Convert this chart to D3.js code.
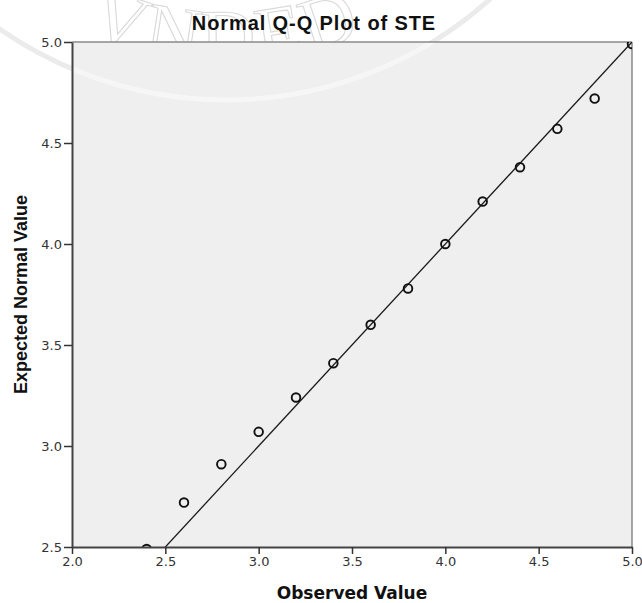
<!DOCTYPE html>
<html>
<head>
<meta charset="utf-8">
<script src="https://cdn.jsdelivr.net/npm/d3@7"></script>
<style>
  html, body { margin: 0; padding: 0; background: #ffffff; }
  svg { display: block; }
</style>
</head>
<body>
<svg id="chart" width="642" height="603"></svg>
<script>
// Normal Q-Q plot: observed values against expected normal quantiles
const observed = [2.4, 2.6, 2.8, 3.0, 3.2, 3.4, 3.6, 3.8, 4.0, 4.2, 4.4, 4.6, 4.8, 5.0];
const expectedNormal = [2.49, 2.72, 2.91, 3.07, 3.24, 3.41, 3.60, 3.78, 4.00, 4.21, 4.38, 4.57, 4.72, 4.99];
const xTicks = [2.0, 2.5, 3.0, 3.5, 4.0, 4.5, 5.0];
const yTicks = [2.5, 3.0, 3.5, 4.0, 4.5, 5.0];
const referenceLine = [2.0, 5.0]; // y = x

const svg = d3.select("#chart");
const plotLeft = 72, plotRight = 632, plotTop = 42, plotBottom = 547;

const x = d3.scaleLinear().domain([2.0, 5.0]).range([plotLeft, plotRight]);
const y = d3.scaleLinear().domain([2.5, 5.0]).range([plotBottom, plotTop]);

// faint seal watermark behind the chart
const wm = svg.append("g").attr("class", "watermark");
const cx = 226, cy = -296, ringR = 396;
wm.append("circle")
  .attr("cx", cx).attr("cy", cy).attr("r", ringR)
  .attr("fill", "none").attr("stroke", "#ebebeb").attr("stroke-width", 5);
const textR = 358;
wm.append("path")
  .attr("id", "wmArc")
  .attr("d", `M ${cx - textR},${cy} A ${textR},${textR} 0 0 0 ${cx + textR},${cy}`)
  .attr("fill", "none");
wm.append("text")
  .attr("font-family", "Liberation Serif, DejaVu Serif, serif")
  .attr("font-size", 76)
  .attr("letter-spacing", 4)
  .attr("fill", "none")
  .attr("stroke", "#d9d9d9")
  .attr("stroke-width", 1.1)
  .append("textPath")
  .attr("href", "#wmArc")
  .attr("startOffset", "50%")
  .attr("text-anchor", "middle")
  .text("VNDED");

// plot area
svg.append("rect")
  .attr("x", plotLeft).attr("y", plotTop)
  .attr("width", plotRight - plotLeft).attr("height", plotBottom - plotTop)
  .attr("fill", "#efefef");

svg.append("clipPath").attr("id", "plotClip")
  .append("rect")
  .attr("x", plotLeft).attr("y", plotTop)
  .attr("width", plotRight - plotLeft).attr("height", plotBottom - plotTop);

// watermark ring seen through the plot area
svg.append("circle")
  .attr("clip-path", "url(#plotClip)")
  .attr("cx", cx).attr("cy", cy).attr("r", ringR)
  .attr("fill", "none").attr("stroke", "#f6f6f6").attr("stroke-width", 5);

// frame: top and right edges
svg.append("line")
  .attr("x1", plotLeft).attr("x2", plotRight).attr("y1", plotTop).attr("y2", plotTop)
  .attr("stroke", "#8a8a8a").attr("stroke-width", 1.5);
svg.append("line")
  .attr("x1", plotRight).attr("x2", plotRight).attr("y1", plotTop).attr("y2", plotBottom)
  .attr("stroke", "#8a8a8a").attr("stroke-width", 1.5);

const plot = svg.append("g").attr("clip-path", "url(#plotClip)");

// reference line y = x
plot.append("line")
  .attr("x1", x(referenceLine[0])).attr("y1", y(referenceLine[0]))
  .attr("x2", x(referenceLine[1])).attr("y2", y(referenceLine[1]))
  .attr("stroke", "#1a1a1a").attr("stroke-width", 1.3);

// observed points
plot.selectAll("circle.pt")
  .data(observed.map((v, i) => ({ o: v, e: expectedNormal[i] })))
  .join("circle")
  .attr("class", "pt")
  .attr("cx", d => x(d.o))
  .attr("cy", d => y(d.e))
  .attr("r", 4.3)
  .attr("fill", "none")
  .attr("stroke", "#111")
  .attr("stroke-width", 1.9);

// axes
const fmt = d3.format(".1f");
const xAxis = svg.append("g")
  .attr("transform", `translate(0,${plotBottom})`)
  .call(d3.axisBottom(x).tickValues(xTicks).tickFormat(fmt).tickSize(7).tickSizeOuter(0));
const yAxis = svg.append("g")
  .attr("transform", `translate(${plotLeft},0)`)
  .call(d3.axisLeft(y).tickValues(yTicks).tickFormat(fmt).tickSize(8).tickSizeOuter(0));

[xAxis, yAxis].forEach(a => {
  a.select(".domain").attr("stroke", "#444").attr("stroke-width", 2);
  a.selectAll(".tick line").attr("stroke", "#333").attr("stroke-width", 1.5);
  a.selectAll(".tick text")
    .attr("font-family", "DejaVu Sans, sans-serif")
    .attr("font-size", 13)
    .attr("fill", "#333");
});
xAxis.selectAll(".tick text").attr("y", 8).attr("dy", "0.85em");
yAxis.selectAll(".tick text").attr("x", -10);

// titles
svg.append("text")
  .attr("x", 314).attr("y", 30)
  .attr("text-anchor", "middle")
  .attr("font-family", "Liberation Sans, Arial, sans-serif")
  .attr("font-weight", "bold")
  .attr("font-size", 20)
  .attr("letter-spacing", 0.9)
  .attr("fill", "#111")
  .text("Normal Q-Q Plot of STE");

svg.append("text")
  .attr("x", (plotLeft + plotRight) / 2).attr("y", 599)
  .attr("text-anchor", "middle")
  .attr("font-family", "DejaVu Sans, sans-serif")
  .attr("font-weight", "bold")
  .attr("font-size", 17)
  .attr("fill", "#111")
  .text("Observed Value");

svg.append("text")
  .attr("transform", `translate(27,${(plotTop + plotBottom) / 2}) rotate(-90)`)
  .attr("text-anchor", "middle")
  .attr("font-family", "Liberation Sans, Arial, sans-serif")
  .attr("font-weight", "bold")
  .attr("font-size", 18)
  .attr("fill", "#111")
  .text("Expected Normal Value");
</script>
</body>
</html>
